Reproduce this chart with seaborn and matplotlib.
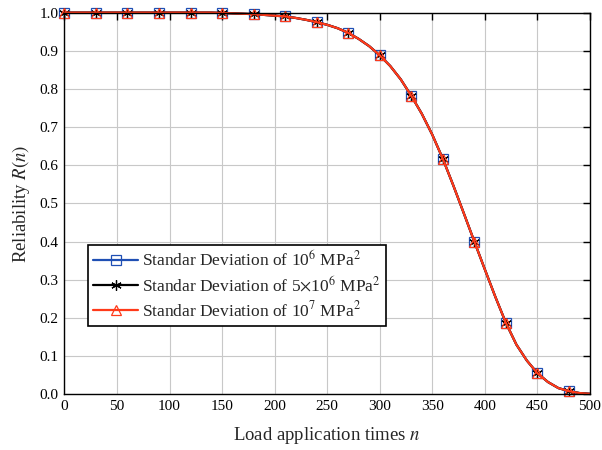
import numpy as np
import pandas as pd
import seaborn as sns
from matplotlib import pyplot as plt

# load application times (line sampled every 10, markers every 30)
n = list(range(0, 510, 10))

# reliability
r_1e6 = [1.000, 1.000, 1.000, 1.000, 1.000, 1.000, 1.000, 1.000, 1.000, 1.000,
         1.000, 1.000, 1.000, 1.000, 1.000, 0.999, 0.998, 0.997, 0.996, 0.994,
         0.992, 0.990, 0.986, 0.981, 0.975, 0.968, 0.959, 0.947, 0.931, 0.912,
         0.888, 0.860, 0.825, 0.782, 0.735, 0.680, 0.617, 0.547, 0.474, 0.400,
         0.327, 0.255, 0.187, 0.130, 0.088, 0.055, 0.032, 0.016, 0.008, 0.003,
         0.001]
r_5e6 = list(r_1e6)
r_1e7 = list(r_1e6)

labels = ['Standar Deviation of 10$^6$ MPa$^2$',
          'Standar Deviation of 5$\\times$10$^6$ MPa$^2$',
          'Standar Deviation of 10$^7$ MPa$^2$']
colors = ['#1f4fb4', '#000000', '#ff3a1a']
markers = ['s', (6, 2, 0), '^']

sns.set_style('whitegrid')
plt.rcParams['font.family'] = ['Liberation Serif', 'DejaVu Serif']
plt.rcParams['mathtext.fontset'] = 'stix'

f, ax = plt.subplots(figsize=(6.02, 4.5), dpi=100)

for vals, lab, c, m in zip([r_1e6, r_5e6, r_1e7], labels, colors, markers):
    df = pd.DataFrame({'n': n, 'R': vals})
    sns.lineplot(data=df, x='n', y='R', ax=ax, color=c, linewidth=1.6,
                 marker=m, markersize=7.5, markevery=slice(0, 49, 3),
                 markerfacecolor='none', markeredgecolor=c, markeredgewidth=0.9,
                 label=lab, clip_on=False)

ax.set_xlim(0, 500)
ax.set_ylim(0, 1.0)
ax.set_xticks(np.arange(0, 501, 50))
ax.set_yticks(np.arange(0, 1.01, 0.1))
ax.set_yticklabels([f'{v:.1f}' for v in np.arange(0, 1.01, 0.1)])
ax.grid(True, color='#c8c8c8', linewidth=0.8)
for s in ax.spines.values():
    s.set_color('black')
    s.set_linewidth(1.0)
ax.tick_params(direction='in', length=5, width=1, top=True, right=True,
               labelsize=11, colors='black', pad=4)
ax.set_xlabel('Load application times $n$', fontsize=13.5, labelpad=9)
ax.set_ylabel('Reliability $R(n)$', fontsize=13.5, labelpad=6)

leg = ax.legend(loc='lower left', bbox_to_anchor=(0.045, 0.18), fontsize=12.5,
                frameon=True, fancybox=False, framealpha=1, edgecolor='black',
                borderpad=0.3, labelspacing=0.3, handlelength=2.6,
                handletextpad=0.2, borderaxespad=0)
leg.get_frame().set_linewidth(1.2)

plt.subplots_adjust(left=0.107, right=0.98, top=0.972, bottom=0.124)
plt.savefig('out.png', dpi=100)
